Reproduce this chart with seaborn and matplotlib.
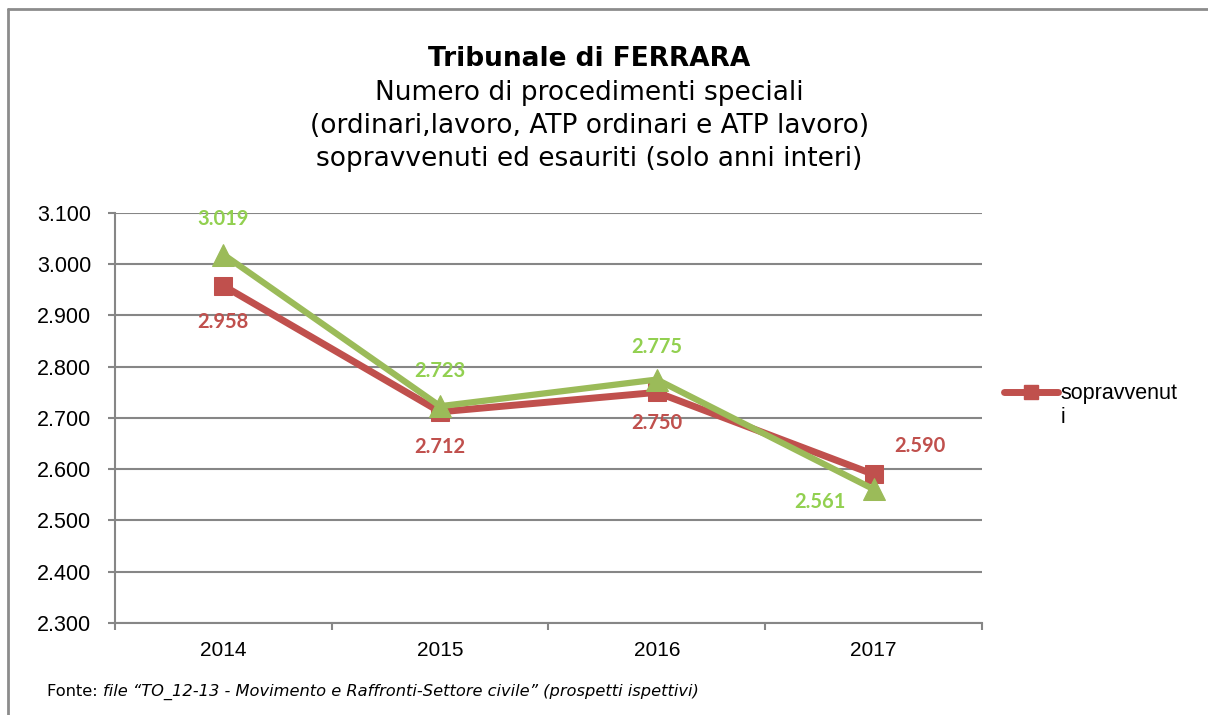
import pandas as pd
import matplotlib.pyplot as plt
import seaborn as sns
from matplotlib.lines import Line2D
from matplotlib.ticker import FuncFormatter, FixedLocator

# Dati
anni = [2014, 2015, 2016, 2017]
sopravvenuti = [2958, 2712, 2750, 2590]
esauriti = [3019, 2723, 2775, 2561]
y_ticks = [2300, 2400, 2500, 2600, 2700, 2800, 2900, 3000, 3100]

df = pd.DataFrame({
    'anno': anni * 2,
    'valore': sopravvenuti + esauriti,
    'serie': ['sopravvenuti'] * len(anni) + ['esauriti'] * len(anni),
})

sns.set_style('white')
plt.rcParams['font.family'] = ['Liberation Sans', 'DejaVu Sans']
plt.rcParams['text.color'] = 'black'
plt.rcParams['xtick.color'] = 'black'
plt.rcParams['ytick.color'] = 'black'

rosso = '#C0504D'
verde = '#9BBB59'
verde_txt = '#92D050'
grigio = '#868686'

fig = plt.figure(figsize=(12.08, 7.15), dpi=100)
ax = fig.add_axes([0.0952, 0.1287, 0.7177, 0.5734])

sns.lineplot(data=df[df.serie == 'sopravvenuti'], x='anno', y='valore', ax=ax,
             color=rosso, lw=5, marker='s', markersize=13,
             markeredgecolor=rosso, legend=False, zorder=3)
sns.lineplot(data=df[df.serie == 'esauriti'], x='anno', y='valore', ax=ax,
             color=verde, lw=4.5, marker='^', markersize=16,
             markeredgecolor=verde, legend=False, zorder=4)

# etichette dei valori
fmt = lambda v: f"{v:,}".replace(",", ".")
off_rosso = [(0, -36), (0, -35), (0, -31), (46, 28)]
off_verde = [(0, 36), (0, 35), (0, 33), (-54, -13)]
for a, v, o in zip(anni, sopravvenuti, off_rosso):
    ax.annotate(fmt(v), (a, v), xytext=o, textcoords='offset pixels',
                ha='center', va='center', color=rosso, fontsize=14.5,
                fontweight='bold', family=['Lato', 'DejaVu Sans'])
for a, v, o in zip(anni, esauriti, off_verde):
    ax.annotate(fmt(v), (a, v), xytext=o, textcoords='offset pixels',
                ha='center', va='center', color=verde_txt, fontsize=14.5,
                fontweight='bold', family=['Lato', 'DejaVu Sans'])

# assi
ax.set_xlim(2013.5, 2017.5)
ax.set_ylim(2300, 3100)
ax.set_yticks(y_ticks)
ax.yaxis.set_major_formatter(FuncFormatter(lambda v, p: fmt(int(v))))
ax.set_xticks(anni)
ax.set_xticklabels([str(a) for a in anni])
ax.xaxis.set_minor_locator(FixedLocator([2013.5, 2014.5, 2015.5, 2016.5, 2017.5]))
ax.tick_params(axis='x', which='major', bottom=True, length=0, pad=13, labelsize=15)
ax.tick_params(axis='x', which='minor', bottom=True, length=5, width=1.5, color=grigio, direction='out')
ax.tick_params(axis='y', left=True, length=5, width=1.5, color=grigio, direction='out',
               pad=12, labelsize=15.5)
ax.set_xlabel('')
ax.set_ylabel('')
ax.yaxis.grid(True, color=grigio, lw=1.5)
ax.xaxis.grid(False)
for s in ['top', 'right']:
    ax.spines[s].set_visible(False)
for s in ['left', 'bottom']:
    ax.spines[s].set_color(grigio)
    ax.spines[s].set_linewidth(1.5)

# legenda (etichetta spezzata su due righe come nell'originale)
h = Line2D([], [], color=rosso, lw=5, marker='s', markersize=10, markeredgecolor=rosso)
vuoto = Line2D([], [], lw=0)
ax.legend([h, vuoto], ['sopravvenut', 'i'], loc='upper left', bbox_to_anchor=(0.831, 0.464),
          bbox_transform=fig.transFigure, frameon=False, fontsize=15.5,
          handlelength=2.5, handletextpad=0.15, borderpad=0, borderaxespad=0,
          labelspacing=0.15)

# titolo
tfam = ['DejaVu Sans']
fig.text(0.488, 1 - 59 / 715, 'Tribunale di FERRARA', ha='center', va='center',
         fontsize=19, fontweight='bold', family=tfam)
fig.text(0.488, 1 - 93 / 715, 'Numero di procedimenti speciali', ha='center', va='center',
         fontsize=19, family=tfam)
fig.text(0.488, 1 - 126 / 715, '(ordinari,lavoro, ATP ordinari e ATP lavoro)', ha='center',
         va='center', fontsize=19, family=tfam)
fig.text(0.488, 1 - 159 / 715, 'sopravvenuti ed esauriti (solo anni interi)', ha='center',
         va='center', fontsize=19, family=tfam)

# fonte
t = fig.text(47 / 1208, 1 - 692 / 715, 'Fonte: ', ha='left', va='center',
             fontsize=11.7, family=tfam)
ax.annotate('file \u201cTO_12-13 - Movimento e Raffronti-Settore civile\u201d (prospetti ispettivi)',
            xy=(1, 0.5), xycoords=t, ha='left', va='center', fontsize=11.7,
            fontstyle='italic', family=tfam, annotation_clip=False)

# cornice
fig.add_artist(Line2D([8 / 1208, 1.0], [1 - 9 / 715] * 2, transform=fig.transFigure,
                      color='#8C8C8C', lw=2))
fig.add_artist(Line2D([8 / 1208] * 2, [0, 1 - 9 / 715], transform=fig.transFigure,
                      color='#8C8C8C', lw=2))

fig.savefig('out.png', dpi=100)
